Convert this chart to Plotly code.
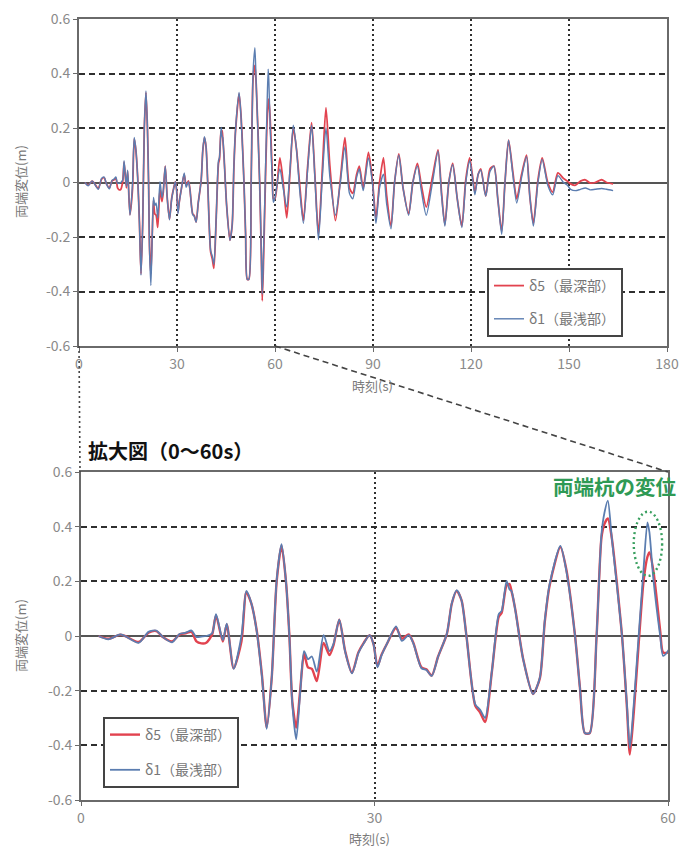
import plotly.graph_objects as go

# Time (s) and end-pile displacement (m) for the deepest (δ5) and shallowest (δ1) pile
t_s = [1.8, 2.8, 4.0, 4.5, 5.9, 6.9, 7.7, 8.4, 9.3, 10.1, 10.7, 11.3, 11.8, 12.3, 12.8,
       13.4, 13.8, 14.5, 14.9, 15.6, 16.4, 16.9, 17.4, 17.96, 18.5, 18.98, 19.5, 20.0, 20.5,
       20.95, 21.3, 21.6, 22.0, 22.4, 22.8, 23.2, 23.6, 24.1, 24.8, 25.4, 25.8, 26.4, 27.0,
       27.7, 28.35, 28.9, 29.5, 29.9, 30.3, 30.7, 31.25, 32.2, 32.8, 33.5, 33.97, 34.8, 35.3,
       35.85, 36.5, 37.4, 37.9, 38.4, 38.9, 39.4, 40.3, 40.8, 41.3, 42.0, 42.7, 43.0, 43.5,
       43.8, 44.0, 44.4, 45.2, 46.2, 46.9, 47.4, 47.9, 49.0, 49.6, 50.5, 51.0, 51.5, 52.0,
       52.7, 53.2, 53.5, 53.85, 54.25, 55.3, 55.8, 56.1, 56.5, 57.0, 57.5, 57.9, 58.1, 58.5,
       59.2, 59.5, 60.0, 61.5, 62.5, 63.6, 64.6, 65.6, 66.6, 67.5, 68.7, 70.0, 71.2, 72.2,
       73.3, 74.5, 75.6, 76.8, 78.5, 80.0, 81.4, 82.8, 83.8, 85.0, 85.8, 87.0, 88.6, 89.8,
       90.9, 92.0, 93.2, 94.2, 95.5, 96.6, 97.9, 99.2, 100.9, 102.2, 103.6, 104.8, 106.3,
       108.2, 109.9, 111.0, 112.0, 113.2, 114.4, 115.8, 117.2, 118.4, 119.6, 120.4, 121.2,
       122.2, 123.0, 124.5, 125.8, 127.0, 128.2, 129.4, 130.4, 131.5, 132.8, 134.0, 135.5,
       137.0, 138.0, 139.1, 140.5, 141.8, 143.5, 145.0, 146.6, 148.3, 149.5, 150.5, 152.0,
       153.5, 155.0, 156.5, 158.0, 160.0, 161.5, 163.5]

d5_m = [0.0, -0.01, 0.005, 0.0, -0.022, 0.012, 0.018, -0.005, -0.02, 0.006, 0.01, 0.015,
        -0.02, -0.027, -0.025, 0.005, 0.075, -0.02, 0.042, -0.118, -0.02, 0.16, 0.12, 0.02,
        -0.145, -0.335, -0.15, 0.2, 0.33, 0.2, 0.0, -0.24, -0.335, -0.2, -0.065, -0.115,
        -0.12, -0.165, -0.025, -0.07, -0.035, 0.06, -0.055, -0.135, -0.06, -0.025, 0.003,
        -0.03, -0.11, -0.07, -0.03, 0.03, -0.01, 0.006, -0.025, -0.115, -0.122, -0.145,
        -0.075, 0.008, 0.118, 0.165, 0.13, 0.0, -0.255, -0.28, -0.315, -0.13, 0.07, 0.085,
        0.185, 0.19, 0.165, 0.095, -0.085, -0.212, -0.155, 0.05, 0.185, 0.325, 0.245, 0.0,
        -0.19, -0.355, -0.355, 0.0, 0.36, 0.41, 0.43, 0.36, 0.0, -0.26, -0.434, -0.28,
        -0.03, 0.2, 0.29, 0.306, 0.24, 0.02, -0.06, -0.06, 0.09, 0.0, -0.13, 0.04, 0.2,
        0.12, 0.0, -0.14, 0.06, 0.22, 0.03, -0.19, 0.05, 0.275, 0.06, -0.14, 0.01, 0.165,
        -0.02, -0.04, 0.03, 0.06, -0.02, 0.11, 0.01, -0.13, 0.0, 0.09, -0.05, -0.16, 0.0,
        0.105, -0.02, -0.115, 0.0, 0.07, -0.01, -0.09, 0.02, 0.12, -0.04, -0.155, 0.0,
        0.07, -0.06, -0.16, 0.01, 0.09, 0.03, -0.035, 0.03, 0.05, -0.05, 0.05, 0.06, -0.06,
        -0.18, 0.0, 0.155, 0.04, -0.06, 0.03, 0.1, -0.05, -0.15, 0.01, 0.09, 0.0, -0.035,
        0.035, 0.015, 0.005, -0.005, -0.01, 0.005, 0.01, -0.002, 0.0, 0.01, 0.0, -0.005]

d1_m = [0.0, -0.012, 0.006, 0.0, -0.025, 0.015, 0.02, -0.005, -0.023, 0.008, 0.012, 0.02,
        -0.004, -0.002, 0.0, 0.01, 0.08, -0.015, 0.045, -0.12, 0.0, 0.165, 0.122, 0.018,
        -0.15, -0.34, -0.15, 0.205, 0.336, 0.2, 0.0, -0.25, -0.378, -0.21, -0.055, -0.085,
        -0.075, -0.13, 0.003, -0.055, -0.03, 0.06, -0.057, -0.137, -0.063, -0.027, 0.003,
        -0.03, -0.115, -0.073, -0.03, 0.035, -0.018, 0.003, -0.027, -0.118, -0.124, -0.146,
        -0.076, 0.009, 0.12, 0.168, 0.13, -0.001, -0.25, -0.27, -0.3, -0.128, 0.08, 0.092,
        0.202, 0.17, 0.165, 0.092, -0.086, -0.212, -0.153, 0.055, 0.19, 0.33, 0.24, 0.0,
        -0.19, -0.355, -0.355, 0.0, 0.373, 0.45, 0.495, 0.36, 0.0, -0.25, -0.41, -0.25,
        0.0, 0.245, 0.416, 0.38, 0.21, 0.0, -0.073, -0.055, 0.05, -0.02, -0.09, 0.05, 0.21,
        0.12, -0.02, -0.15, 0.05, 0.21, 0.02, -0.21, 0.02, 0.2, 0.02, -0.12, 0.0, 0.13,
        -0.04, -0.06, 0.02, 0.05, -0.03, 0.09, 0.0, -0.15, -0.02, 0.03, -0.08, -0.17, 0.0,
        0.1, -0.02, -0.12, 0.0, 0.06, -0.03, -0.12, 0.0, 0.115, -0.05, -0.16, 0.0, 0.065,
        -0.06, -0.165, 0.0, 0.08, 0.02, -0.045, 0.03, 0.045, -0.05, 0.04, 0.06, -0.06,
        -0.19, 0.0, 0.155, 0.03, -0.075, 0.02, 0.095, -0.05, -0.16, 0.0, 0.085, -0.01,
        -0.045, 0.025, 0.0, -0.01, -0.025, -0.03, -0.025, -0.02, -0.027, -0.025, -0.022,
        -0.025, -0.03]

series_names = ["δ5（最深部）", "δ1（最浅部）"]
y_ticks = [-0.6, -0.4, -0.2, 0, 0.2, 0.4, 0.6]
y_tick_labels = ["-0.6", "-0.4", "-0.2", "0", "0.2", "0.4", "0.6"]
x_ticks_full = [0, 30, 60, 90, 120, 150, 180]
x_ticks_zoom = [0, 30, 60]
x_title = "時刻(s)"
y_title = "両端変位(m)"
zoom_title = "拡大図（0〜60s）"
note_text = "両端杭の変位"

W, H = 679, 848
RED = "#e2434f"
BLUE = "#5b7db0"
GRID = "#2f2f2f"
FRAME = "#6a6a6a"
TICK_GRAY = "#8a8a8a"
FONT = "Noto Sans CJK JP"


def px_x(p):
    return p / W


def px_y(p):
    return 1 - p / H


fig = go.Figure()

for (vals, name, color, width), (xa, ya, leg, grp) in [
    ((d5_m, series_names[0], RED, 1.8), ("x", "y", "legend", "a5")),
    ((d1_m, series_names[1], BLUE, 1.4), ("x", "y", "legend", "a1")),
    ((d5_m, series_names[0], RED, 2.4), ("x2", "y2", "legend2", "b5")),
    ((d1_m, series_names[1], BLUE, 1.8), ("x2", "y2", "legend2", "b1")),
]:
    fig.add_trace(go.Scatter(
        x=t_s, y=vals, mode="lines", name=name,
        line=dict(color=color, width=width, shape="spline", smoothing=0.7),
        xaxis=xa, yaxis=ya, legend=leg, legendgroup=grp,
    ))

axis_common = dict(
    showline=True, mirror=True, linecolor=FRAME, linewidth=2,
    ticks="outside", ticklen=4, tickcolor=FRAME,
    tickfont=dict(size=14, color=TICK_GRAY, family=FONT),
    showgrid=True, gridcolor=GRID, gridwidth=1.5,
    automargin=False, fixedrange=True,
)

legend_common = dict(
    xanchor="left", yanchor="top", bgcolor="white", bordercolor="#444", borderwidth=2,
    font=dict(size=14, color="#777", family=FONT),
    itemwidth=30, traceorder="grouped",
)

fig.update_layout(
    width=W, height=H,
    margin=dict(l=0, r=0, t=0, b=0),
    paper_bgcolor="white", plot_bgcolor="white",
    font=dict(family=FONT, color="#777"),
    xaxis=dict(axis_common, domain=[px_x(79), px_x(667)], anchor="y", range=[0, 180],
               tickvals=x_ticks_full, griddash="2px,3px", zeroline=False),
    yaxis=dict(axis_common, domain=[px_y(346), px_y(19)], anchor="x", range=[-0.6, 0.6],
               tickvals=y_ticks, ticktext=y_tick_labels, griddash="6px,4px",
               zeroline=True, zerolinecolor="#555", zerolinewidth=1.5),
    xaxis2=dict(axis_common, domain=[px_x(81), px_x(668)], anchor="y2", range=[0, 60],
                tickvals=x_ticks_zoom, griddash="2px,3px", zeroline=False),
    yaxis2=dict(axis_common, domain=[px_y(800), px_y(472)], anchor="x2", range=[-0.6, 0.6],
                tickvals=y_ticks, ticktext=y_tick_labels, griddash="6px,4px",
                zeroline=True, zerolinecolor="#555", zerolinewidth=1.5),
    legend=dict(legend_common, x=px_x(487), y=px_y(268), tracegroupgap=12),
    legend2=dict(legend_common, x=px_x(103), y=px_y(717), tracegroupgap=14),
    showlegend=True,
)

# Dashed leader lines linking the 0-60 s window of the full record to the enlarged view
fig.add_shape(type="line", xref="paper", yref="paper",
              x0=px_x(275), y0=px_y(346), x1=px_x(668), y1=px_y(472),
              line=dict(color="#444", width=1.6, dash="6px,4px"))
fig.add_shape(type="line", xref="paper", yref="paper",
              x0=px_x(79), y0=px_y(346), x1=px_x(80), y1=px_y(472),
              line=dict(color="#444", width=1.6, dash="2px,3px"))

# Dotted ring around the last positive peak of the enlarged view
fig.add_shape(type="circle", xref="x2", yref="y2",
              x0=56.5, x1=59.4, y0=0.22, y1=0.455,
              line=dict(color="#3aa060", width=2.4, dash="2px,3px"))

annotations = [
    dict(text=x_title, x=px_x(372), y=px_y(385)),
    dict(text=x_title, x=px_x(370), y=px_y(838)),
    dict(text=y_title, x=px_x(20), y=px_y(182), textangle=-90),
    dict(text=y_title, x=px_x(20), y=px_y(636), textangle=-90),
]
for a in annotations:
    fig.add_annotation(xref="paper", yref="paper", showarrow=False,
                       xanchor="center", yanchor="middle",
                       font=dict(size=13, color="#7a7a7a", family=FONT), **a)

fig.add_annotation(text=f"<b>{zoom_title}</b>", xref="paper", yref="paper",
                   x=px_x(86), y=px_y(450), xanchor="left", yanchor="middle",
                   showarrow=False, font=dict(size=20, color="#111", family=FONT))
fig.add_annotation(text=f"<b>{note_text}</b>", xref="paper", yref="paper",
                   x=px_x(551), y=px_y(486), xanchor="left", yanchor="middle",
                   showarrow=False, font=dict(size=20.5, color="#2f9a55", family=FONT))

fig.write_html("out.html")
